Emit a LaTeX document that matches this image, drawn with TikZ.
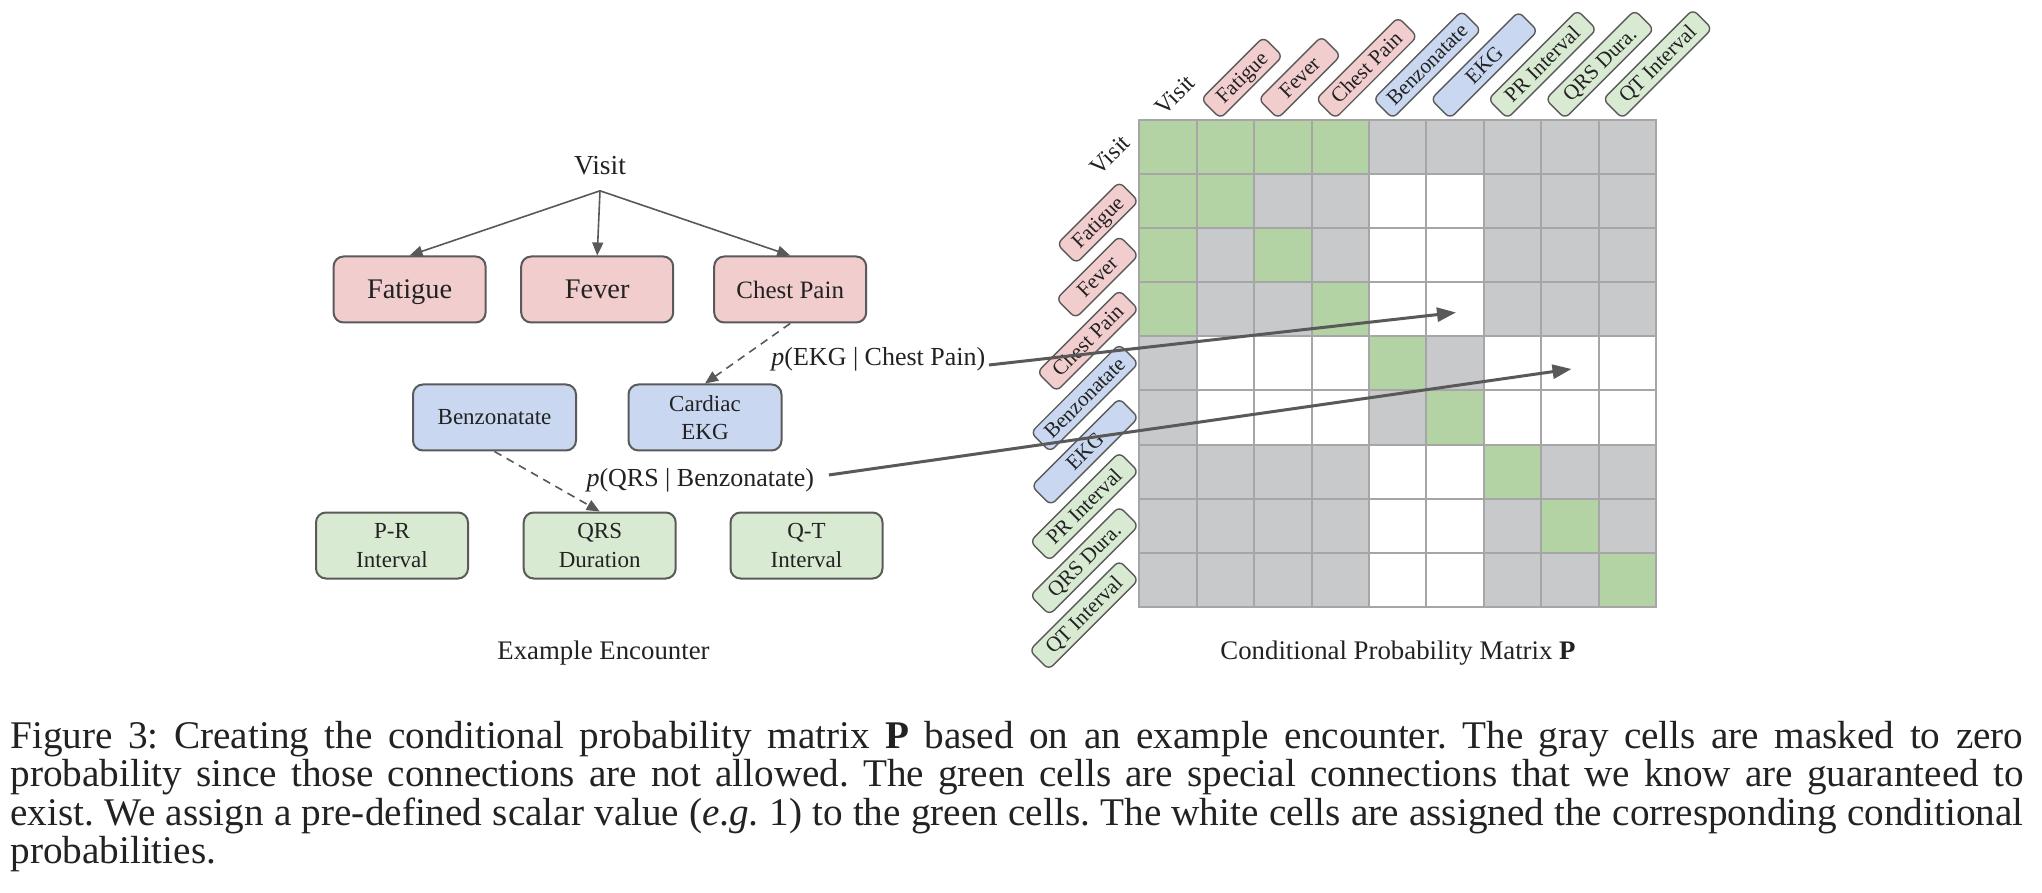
\documentclass[tikz,border=0pt]{standalone}
\usepackage{fontspec}
\setmainfont{Liberation Serif}
\usetikzlibrary{arrows.meta}
\definecolor{pinkc}{HTML}{F2CDCD}
\definecolor{bluec}{HTML}{C9D8F0}
\definecolor{greenc}{HTML}{D9EAD3}
\definecolor{mgreen}{HTML}{B3D3A5}
\definecolor{mgray}{HTML}{C8C9CB}
\definecolor{gridc}{HTML}{A6A6A6}
\definecolor{edgec}{HTML}{5A5A5A}
\definecolor{arrowc}{HTML}{595959}
\definecolor{txt}{HTML}{222222}
\begin{document}
\frenchspacing
\begin{tikzpicture}[x=0.5pt,y=-0.5pt,
  every node/.style={text=txt},
  box/.style={draw=edgec, line width=1pt, rounded corners=5pt, minimum height=33pt,
    minimum width=76pt, inner sep=0pt, align=center, font=\fontsize{11.5}{14.2}\selectfont},
  sym/.style={box, fill=pinkc, text height=0.9em, text depth=0pt},
  med/.style={box, fill=bluec},
  lab/.style={box, fill=greenc},
  varrow/.style={draw=arrowc, line width=0.8pt, -{Triangle[length=6.5pt,width=5.5pt]}},
  darrow/.style={varrow, dash pattern=on 4pt off 3pt},
  larrow/.style={draw=arrowc, line width=1.5pt, -{Triangle[length=9.5pt,width=7pt]}},
  plab/.style={inner sep=0pt, font=\fontsize{13}{15}\selectfont},
  title/.style={inner sep=0pt, font=\fontsize{13.4}{16}\selectfont},
  mlab/.style={draw=edgec, line width=0.7pt, rounded corners=3pt, minimum height=13.6pt,
    inner sep=0pt, rotate=45, text height=0.662em, text depth=0pt,
    font=\fontsize{10.6}{12}\selectfont},
  vlab/.style={inner sep=0pt, rotate=45, font=\fontsize{12}{14}\selectfont},
  cellG/.style={fill=mgreen},
  cellg/.style={fill=mgray},
  cellW/.style={fill=white}]
\useasboundingbox (0,0) rectangle (2042,893);
\fill[white] (0,0) rectangle (2042,893);

% ---------- left: example encounter ----------
\node[inner sep=0pt, anchor=base, font=\fontsize{13.75}{16}\selectfont] (Visit) at (600,175) {Visit};
\node[sym, font=\fontsize{14.2}{17}\selectfont] (Fatigue) at (409.6,289.5) {Fatigue};
\node[sym, font=\fontsize{14.2}{17}\selectfont] (Fever) at (597.2,289.5) {Fever};
\node[sym, font=\fontsize{12.5}{15}\selectfont] (Chest) at (790.2,289.5) {Chest Pain};
\node[med, minimum width=81.5pt] (Benz) at (494.5,417.5) {Benzonatate};
\node[med, minimum width=76.5pt] (Cardiac) at (705,417.5) {Cardiac\\EKG};
\node[lab] (PR) at (392,545.5) {P-R\\Interval};
\node[lab] (QRS) at (599.7,545.5) {QRS\\Duration};
\node[lab] (QT) at (806.5,545.5) {Q-T\\Interval};

\draw[varrow] ([yshift=-7.5pt]Visit.south) -- (Fatigue.north);
\draw[varrow] ([yshift=-7.5pt]Visit.south) -- (Fever.north);
\draw[varrow] ([yshift=-7.5pt]Visit.south) -- (Chest.north);
\draw[darrow] (Chest.south) -- (Cardiac.north);
\draw[darrow] (Benz.south) -- (QRS.north);

\node[plab, anchor=base] (pe) at (878.4,365) {\textit{p}(EKG | Chest Pain)};
\node[plab, anchor=base] (pq) at (700.3,486.7) {\textit{p}(QRS | Benzonatate)};

\node[title, anchor=base] (exenc) at (603.5,659.3) {Example Encounter};

% ---------- right: matrix ----------
\def\gx{1139.3}
\def\gy{120}
\def\cw{57.41}
\def\ch{54.1}
\foreach \r [count=\i from 0] in {{G,G,G,G,g,g,g,g,g},{G,G,g,g,W,W,g,g,g},{G,g,G,g,W,W,g,g,g},{G,g,g,G,W,W,g,g,g},{g,W,W,W,G,g,W,W,W},{g,W,W,W,g,G,W,W,W},{g,g,g,g,W,W,G,g,g},{g,g,g,g,W,W,g,G,g},{g,g,g,g,W,W,g,g,G}}{
  \foreach \c [count=\j from 0] in \r {
    \draw[draw=gridc, line width=1pt, cell\c] ({\gx+\j*\cw},{\gy+\i*\ch}) rectangle ++(\cw,\ch);
  }
}

\node[vlab] (colVisit) at (1175,95) {Visit};
\node[vlab] (rowVisit) at (1110,155) {Visit};
\foreach \j/\t/\f/\w in {1/Fatigue/pinkc/44, 2/Fever/pinkc/44.5, 3/Chest Pain/pinkc/58,
    4/Benzonatate/bluec/62.5, 5/EKG/bluec/62, 6/PR Interval/greenc/63,
    7/QRS Dura./greenc/63, 8/QT Interval/greenc/63.5}{
  \node[mlab, fill=\f, minimum width=\w pt, anchor=south west] (col\j)
    at ({\gx+(\j+0.5)*\cw-5},119.5) {\t};
  \node[mlab, fill=\f, minimum width=\w pt, anchor=south east] (row\j)
    at (1139.5,{\gy+(\j+0.5)*\ch}) {\t};
}

\node[title, anchor=base] (cpm) at (1398,659.3) {Conditional Probability Matrix \textbf{P}};

\coordinate (tipA) at (1456,312.5);
\coordinate (tipB) at (1571.5,369);
\draw[larrow] ([xshift=1.6pt]pe.base east) -- (tipA);
\draw[larrow] ([xshift=7.2pt,yshift=2.75pt]pq.east) -- (tipB);

% ---------- caption ----------
\node[anchor=base west, text width=1006.5pt, inner sep=0pt, align=justify,
  font=\fontsize{19.6}{19.3}\selectfont] (cap) at (10,748)
  {\tolerance=10000\frenchspacing Figure 3: Creating the conditional probability matrix \textbf{P} based on an example encounter. The gray cells are masked to zero\linebreak
  probability since those connections are not allowed. The green cells are special connections that we know are guaranteed to\linebreak
  exist. We assign a pre-defined scalar value (\textit{e.g.} 1) to the green cells. The white cells are assigned the corresponding conditional\linebreak
  probabilities.};
\end{tikzpicture}
\end{document}
